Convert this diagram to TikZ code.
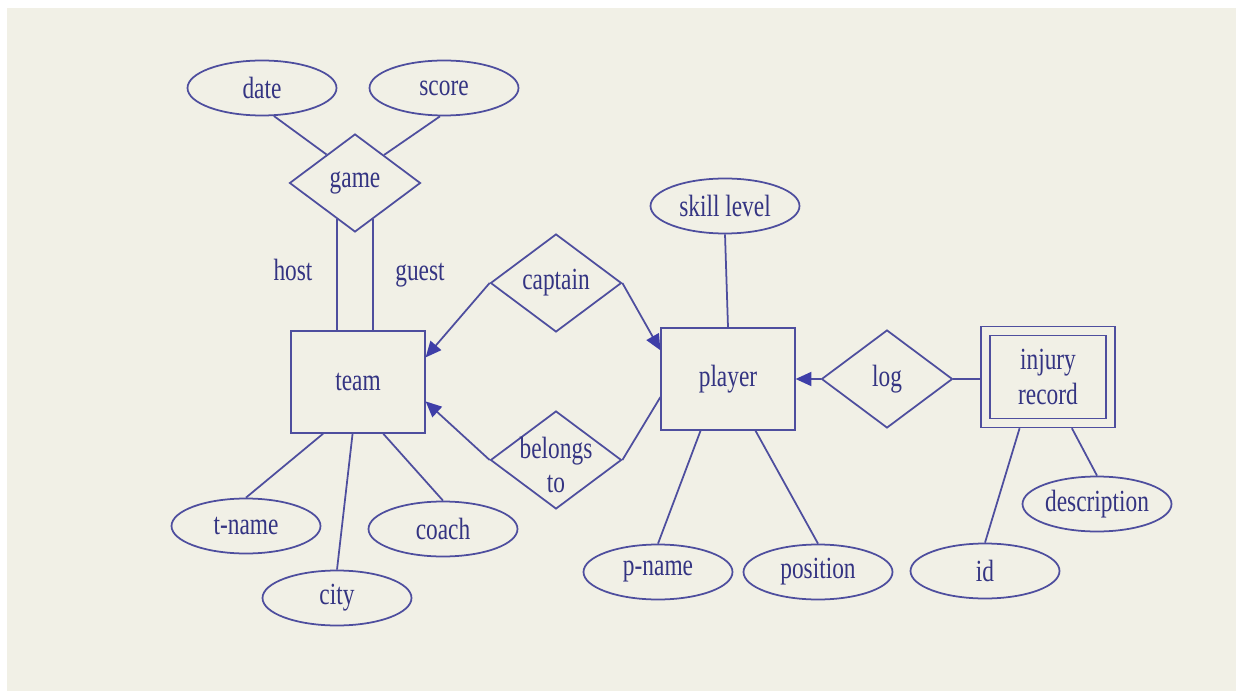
\documentclass[tikz,border=0pt]{standalone}
\usepackage{fontspec}
\setmainfont[FakeStretch=0.76]{Liberation Serif}
\usetikzlibrary{shapes.geometric, arrows.meta}

\begin{document}
\begin{tikzpicture}[x=0.02cm, y=-0.02cm, line width=1pt,
	every node/.style={font=\fontsize{17.5}{19.5}\selectfont, text=inkcol},
	entity/.style={draw=linecol, rectangle, minimum width=2.67cm, minimum height=2.03cm, inner sep=0pt},
	attrib/.style={draw=linecol, ellipse, minimum width=2.98cm, minimum height=1.1cm, inner sep=0pt},
	rel/.style={draw=linecol, diamond, minimum width=2.62cm, minimum height=1.96cm, inner sep=0pt},
	arrowto/.style={draw=linecol, -{Triangle[length=9pt, width=8pt, color=headcol]}}]
	\definecolor{papercol}{RGB}{241, 240, 230};
\definecolor{linecol}{RGB}{78, 78, 158};
\definecolor{inkcol}{RGB}{52, 52, 130};
\definecolor{headcol}{RGB}{62, 62, 168};

% \attrib#name#x#y#text
\def\attrib#1#2#3#4{
	\node[attrib] (#1) at (#2, #3) {#4};
}

% \link#from#to
\def\link#1#2{
	\draw[linecol] (#1) -- (#2);
}
	
	% paper
	\useasboundingbox (0, 0) rectangle (1236, 692);
	\fill[papercol] (7, 8) rectangle (1236, 691);
	
	% entities
	\node[entity] (team) at (358, 382) {team};
	\node[entity] (player) at (728, 379) {player};
	\node[entity, double=papercol, double distance=4pt, outer sep=3pt,
		minimum width=2.51cm, minimum height=1.84cm, align=center] (injury) at (1048, 377) {injury\\record};
	
	% relationships
	\node[rel] (game) at (355, 183) {game};
	\node[rel] (captain) at (556, 283) {captain};
	\node[rel, label={[align=center, yshift=-3pt]center:belongs\\to}] (belongs) at (556, 460) {};
	\node[rel] (log) at (887, 379) {log};
	
	% attributes
	\attrib{date}{262}{88}{date}
	\attrib{score}{444}{88}{score}
	\attrib{tname}{246}{526}{t-name}
	\attrib{city}{337}{598}{city}
	\attrib{coach}{443}{529}{coach}
	\attrib{skill}{725}{206}{skill level}
	\attrib{pname}{658}{572}{p-name}
	\attrib{position}{818}{572}{position}
	\attrib{id}{985}{571}{id}
	\attrib{descr}{1097}{504}{description}
	
	% roles
	\node[anchor=base] (host) at (293, 280) {host};
	\node[anchor=base] (guest) at (420, 280) {guest};
	
	% game
	\link{date.-67}{game.135}
	\link{score.-98}{game.44}
	\link{game.-116}{game.-116 |- team.north}
	\link{game.-64}{game.-64 |- team.north}
	
	% team attributes
	\link{team.-124}{tname.north}
	\link{team.-96}{city.north}
	\link{team.-64}{coach.north}
	
	% captain, belongs to
	\draw[arrowto] (captain.west) -- (team.20);
	\draw[arrowto] (captain.east) -- (player.157);
	\draw[arrowto] (belongs.west) -- (team.-16);
	\link{belongs.east}{player.-165}
	
	% player attributes
	\link{skill.south}{player.north}
	\link{player.-118}{pname.north}
	\link{player.-62}{position.north}
	
	% log
	\draw[arrowto] (log.west) -- (player.east);
	\link{log.east}{log.east -| injury.west}
	\link{injury.-119}{id.north}
	\link{injury.-65}{descr.north}
\end{tikzpicture}
\end{document}
